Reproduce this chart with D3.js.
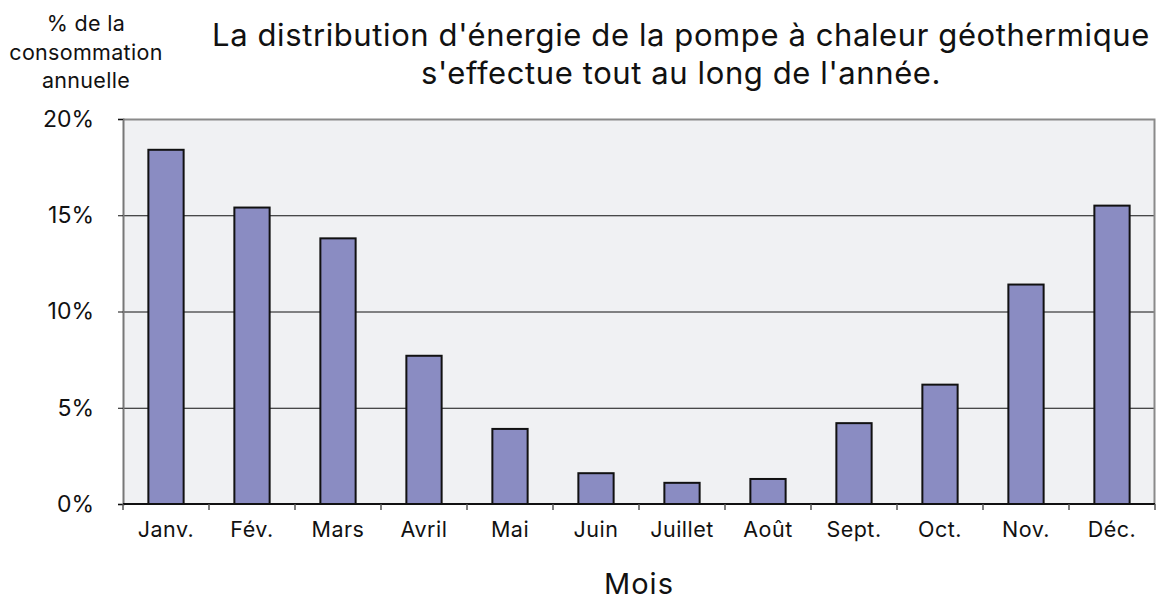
<!DOCTYPE html>
<html>
<head>
    <meta charset="utf-8">
    <style>
        body { margin: 0; background: #fff; }
        text { font-family: Inter, Roboto, sans-serif; fill: #111; }
    </style>
    <script src="https://cdnjs.cloudflare.com/ajax/libs/d3/7.8.5/d3.min.js"></script>
</head>
<body>
    <script>
        const months = ["Janv.", "Fév.", "Mars", "Avril", "Mai", "Juin", "Juillet", "Août", "Sept.", "Oct.", "Nov.", "Déc."];
        const shares = [18.4, 15.4, 13.8, 7.7, 3.9, 1.6, 1.1, 1.3, 4.2, 6.2, 11.4, 15.5];
        const yTicks = [0, 5, 10, 15, 20];
        const titleLines = ["La distribution d'énergie de la pompe à chaleur géothermique", "s'effectue tout au long de l'année."];
        const yLabelLines = ["% de la", "consommation", "annuelle"];

        const width = 1156, height = 596;
        const margin = { top: 119, right: 1, bottom: 92, left: 123 };
        const innerW = width - margin.left - margin.right;
        const innerH = height - margin.top - margin.bottom;

        const svg = d3.select("body").append("svg")
            .attr("width", width).attr("height", height);

        const g = svg.append("g").attr("transform", `translate(${margin.left},${margin.top})`);

        const x = d3.scaleBand().domain(months).range([0, innerW]).paddingInner(0.59).paddingOuter(0.295);
        const y = d3.scaleLinear().domain([0, 20]).range([innerH, 0]);

        // plot background
        g.append("rect").attr("width", innerW).attr("height", innerH).attr("fill", "#f0f1f3");

        // gridlines
        g.selectAll("line.grid").data(yTicks.slice(1, -1)).enter().append("line")
            .attr("x1", 0).attr("x2", innerW)
            .attr("y1", d => y(d) + 0.5).attr("y2", d => y(d) + 0.5)
            .attr("stroke", "#111").attr("stroke-width", 1);

        // top and right border
        g.append("path").attr("d", `M0,0.5H${innerW - 0.5}V${innerH}`)
            .attr("fill", "none").attr("stroke", "#8a8a8a").attr("stroke-width", 2);

        // bars
        g.selectAll("rect.bar").data(shares).enter().append("rect")
            .attr("class", "bar")
            .attr("x", (d, i) => x(months[i]))
            .attr("y", d => y(d))
            .attr("width", x.bandwidth())
            .attr("height", d => innerH - y(d))
            .attr("fill", "#8a8cc2").attr("stroke", "#111").attr("stroke-width", 2);

        // y axis
        const yAxis = g.append("g").call(d3.axisLeft(y).tickValues(yTicks).tickSize(5).tickFormat(d => d + "%"));
        yAxis.select(".domain").attr("stroke", "#777").attr("stroke-width", 2);
        yAxis.selectAll(".tick line").attr("stroke", "#111");
        yAxis.selectAll(".tick text").attr("x", -29).attr("font-size", 23)
            .attr("font-family", "Inter, Roboto, sans-serif").attr("fill", "#111");

        // x axis with ticks at band edges
        const edges = d3.range(months.length + 1).map(i => i * x.step());
        const xAxisG = g.append("g").attr("transform", `translate(0,${innerH})`);
        xAxisG.append("line").attr("x1", 0).attr("x2", innerW).attr("stroke", "#111").attr("stroke-width", 2);
        xAxisG.selectAll("line.tk").data(edges).enter().append("line")
            .attr("x1", d => d).attr("x2", d => d).attr("y1", 0).attr("y2", 6)
            .attr("stroke", "#555").attr("stroke-width", 1.5);
        xAxisG.selectAll("text").data(months).enter().append("text")
            .attr("x", d => x(d) + x.bandwidth() / 2).attr("y", 33)
            .attr("text-anchor", "middle").attr("font-size", 21.5).attr("letter-spacing", 0.5)
            .text(d => d);

        // x axis title
        svg.append("text").attr("x", margin.left + innerW / 2).attr("y", 594)
            .attr("text-anchor", "middle").attr("font-size", 29).attr("letter-spacing", 1).text("Mois");

        // chart title
        svg.append("g").selectAll("text").data(titleLines).enter().append("text")
            .attr("x", 681).attr("y", (d, i) => 46 + i * 37.5)
            .attr("text-anchor", "middle").attr("font-size", 31).attr("letter-spacing", 0.6)
            .text(d => d);

        // y axis label
        svg.append("g").selectAll("text").data(yLabelLines).enter().append("text")
            .attr("x", 86).attr("y", (d, i) => 31 + i * 28.5)
            .attr("text-anchor", "middle").attr("font-size", 21.5).attr("letter-spacing", 0.3)
            .text(d => d);
    </script>
</body>
</html>
